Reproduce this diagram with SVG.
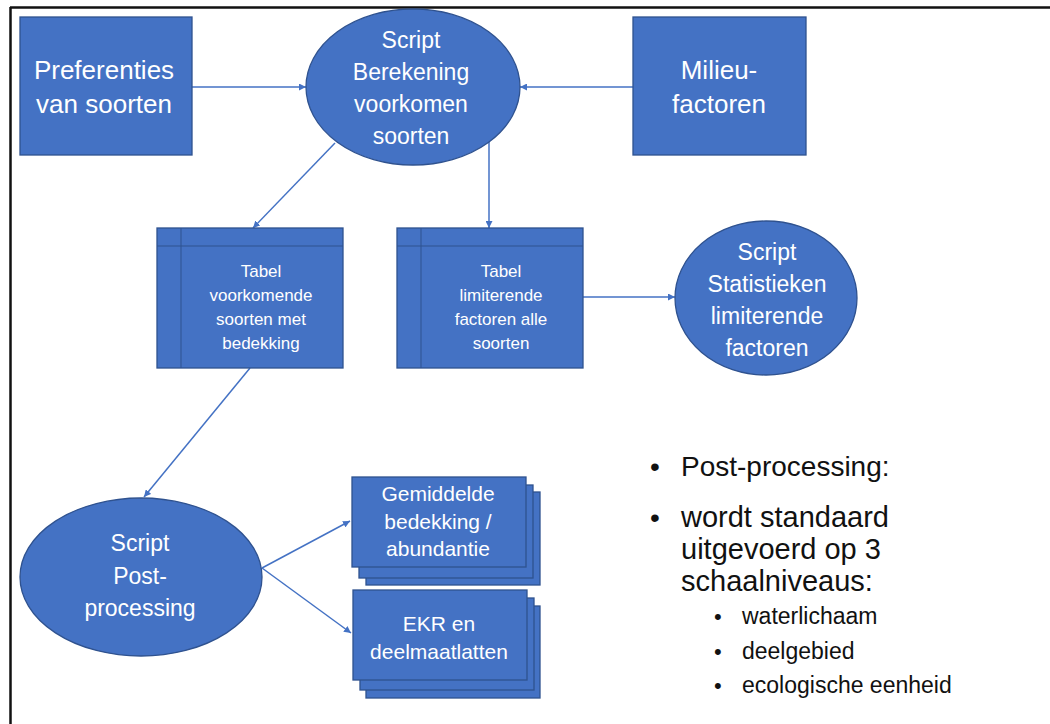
<svg xmlns="http://www.w3.org/2000/svg" width="1050" height="724" viewBox="0 0 1050 724">
<defs>
<style>
.box{fill:#4472C4;stroke:#2F528F;stroke-width:1.3}
.t{fill:#fff;font-family:"Liberation Sans",Arial,sans-serif;text-anchor:middle}
.c{stroke:#4472C4;stroke-width:1.5;fill:none;marker-end:url(#ah)}
.inner{stroke:#2F528F;stroke-width:1;fill:none}
.b{fill:#111;font-family:"Liberation Sans",Arial,sans-serif}
</style>
<marker id="ah" viewBox="0 0 10 10" refX="10" refY="5" markerWidth="7" markerHeight="7" orient="auto" markerUnits="userSpaceOnUse">
<path d="M0,0 L10,5 L0,10 z" fill="#4472C4"/>
</marker>
</defs>
<rect width="1050" height="724" fill="#fff"/>
<g id="frame" stroke="#111" stroke-width="2.5">
<line x1="10" y1="7.5" x2="1050" y2="7.5"/>
<line x1="10.5" y1="7" x2="10.5" y2="724"/>
</g>
<g id="connectors">
<line class="c" x1="192" y1="87" x2="306" y2="87"/>
<line class="c" x1="633" y1="87" x2="520" y2="87"/>
<line class="c" x1="335" y1="143" x2="253" y2="228"/>
<line class="c" x1="489" y1="142" x2="489" y2="228"/>
<line class="c" x1="583" y1="297" x2="675" y2="297"/>
<line class="c" x1="250" y1="368" x2="144" y2="497"/>
<line class="c" x1="262" y1="568" x2="350" y2="521"/>
<line class="c" x1="262" y1="568" x2="351" y2="633"/>
</g>
<g id="preferenties">
<rect class="box" x="20" y="17" width="172" height="138"/>
<text class="t" font-size="26"><tspan x="104" y="79">Preferenties</tspan><tspan x="104" y="113">van soorten</tspan></text>
</g>
<g id="script-berekening">
<ellipse class="box" cx="413" cy="87" rx="107" ry="78"/>
<text class="t" font-size="23"><tspan x="411" y="48">Script</tspan><tspan x="411" y="80">Berekening</tspan><tspan x="411" y="112">voorkomen</tspan><tspan x="411" y="144">soorten</tspan></text>
</g>
<g id="milieufactoren">
<rect class="box" x="633" y="17" width="173" height="138"/>
<text class="t" font-size="26"><tspan x="719" y="79">Milieu-</tspan><tspan x="719" y="113">factoren</tspan></text>
</g>
<g id="tabel-voorkomende">
<rect class="box" x="157" y="228" width="186" height="140"/>
<line class="inner" x1="181" y1="228" x2="181" y2="368"/>
<line class="inner" x1="157" y1="246" x2="343" y2="246"/>
<text class="t" font-size="17"><tspan x="261" y="277">Tabel</tspan><tspan x="261" y="301">voorkomende</tspan><tspan x="261" y="325">soorten met</tspan><tspan x="261" y="349">bedekking</tspan></text>
</g>
<g id="tabel-limiterende">
<rect class="box" x="397" y="228" width="186" height="140"/>
<line class="inner" x1="421" y1="228" x2="421" y2="368"/>
<line class="inner" x1="397" y1="246" x2="583" y2="246"/>
<text class="t" font-size="17"><tspan x="501" y="277">Tabel</tspan><tspan x="501" y="301">limiterende</tspan><tspan x="501" y="325">factoren alle</tspan><tspan x="501" y="349">soorten</tspan></text>
</g>
<g id="script-statistieken">
<ellipse class="box" cx="766" cy="298" rx="91" ry="77"/>
<text class="t" font-size="23"><tspan x="767" y="260">Script</tspan><tspan x="767" y="292">Statistieken</tspan><tspan x="767" y="324">limiterende</tspan><tspan x="767" y="356">factoren</tspan></text>
</g>
<g id="script-postprocessing">
<ellipse class="box" cx="141" cy="577" rx="121" ry="79"/>
<text class="t" font-size="23"><tspan x="140" y="551">Script</tspan><tspan x="140" y="584">Post-</tspan><tspan x="140" y="616">processing</tspan></text>
</g>
<g id="gemiddelde-bedekking">
<rect class="box" x="366" y="492" width="174" height="93"/>
<rect class="box" x="359" y="485" width="174" height="93"/>
<rect class="box" x="352" y="477" width="174" height="90"/>
<text class="t" font-size="21"><tspan x="438" y="501">Gemiddelde</tspan><tspan x="438" y="529">bedekking /</tspan><tspan x="438" y="556">abundantie</tspan></text>
</g>
<g id="ekr-deelmaatlatten">
<rect class="box" x="366" y="606" width="174" height="92"/>
<rect class="box" x="360" y="598" width="174" height="92"/>
<rect class="box" x="353" y="590" width="174" height="90"/>
<text class="t" font-size="21"><tspan x="439" y="631">EKR en</tspan><tspan x="439" y="659">deelmaatlatten</tspan></text>
</g>
<g id="bullets">
<text class="b" font-size="28" x="650" y="476">•</text>
<text class="b" font-size="28" x="681" y="476">Post-processing:</text>
<text class="b" font-size="28" x="650" y="527">•</text>
<text class="b" font-size="29"><tspan x="681" y="527">wordt standaard</tspan><tspan x="681" y="559">uitgevoerd op 3</tspan><tspan x="681" y="591">schaalniveaus:</tspan></text>
<text class="b" font-size="22" x="714" y="624">•</text>
<text class="b" font-size="22" x="714" y="659">•</text>
<text class="b" font-size="22" x="714" y="693">•</text>
<text class="b" font-size="23" x="742" y="624">waterlichaam</text>
<text class="b" font-size="23" x="742" y="659">deelgebied</text>
<text class="b" font-size="23" x="742" y="693">ecologische eenheid</text>
</g>
</svg>
